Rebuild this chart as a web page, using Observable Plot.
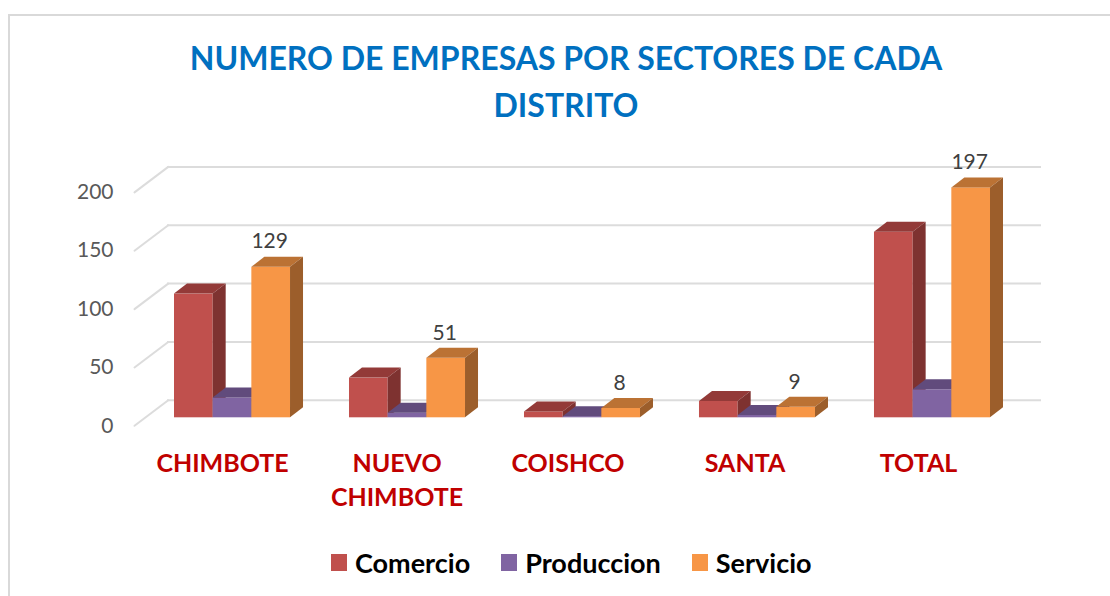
<!DOCTYPE html>
<html>
<head>
<meta charset="utf-8">
<script src="https://cdn.jsdelivr.net/npm/d3@7"></script>
<script src="https://cdn.jsdelivr.net/npm/@observablehq/plot@0.6"></script>
<style>
html,body{margin:0;padding:0;background:#fff;width:1110px;height:596px;overflow:hidden;font-family:Lato,sans-serif}
#frame{position:absolute;left:8px;top:14px;width:1102px;height:582px;border-left:2px solid #d9d9d9;border-top:2px solid #d9d9d9;box-sizing:border-box}
#title{position:absolute;left:0;top:34px;width:1132px;text-align:center;font-weight:700;font-size:32px;line-height:47px;color:#0070c0}
#chart{position:absolute;left:0;top:140px}
#legend{position:absolute;left:331px;top:544px;height:36px;display:flex;align-items:center;font-weight:700;font-size:27px;color:#000}
#legend span.sw{display:inline-block;width:16px;height:17px;margin-right:8px}
#legend span.it{display:inline-flex;align-items:center;margin-right:31px}
</style>
</head>
<body>
<div id="frame"></div>
<div id="title">NUMERO DE EMPRESAS POR SECTORES DE CADA<br>DISTRITO</div>
<div id="chart"></div>
<div id="legend"></div>
<script>
const categories = ["CHIMBOTE", "NUEVO\nCHIMBOTE", "COISHCO", "SANTA", "TOTAL"];
const series = ["Comercio", "Produccion", "Servicio"];
const comercio = [106, 34, 5, 14, 159];
const produccion = [17, 4, 1, 2, 24];
const servicio = [129, 51, 8, 9, 197];
const yTicks = [0, 50, 100, 150, 200];
const frontColors = ["#c0504d", "#8064a2", "#f79646"];
const topColors = ["#933a38", "#614b7c", "#bb7234"];
const sideColors = ["#7e3230", "#54406b", "#9c5e2b"];
const labelNudge = [-10.5, -11, -15, -13, -14.5];

const seriesValues = [comercio, produccion, servicio];
const rows = categories.flatMap((c, i) =>
  series.map((s, j) => ({category: c, series: s, value: seriesValues[j][i]}))
);

const depthX = 13, depthY = 10;
const grid = "#dcdcdc";

// Extruded bar: the rect comes from Plot; its top and side faces follow from the rect's scaled geometry.
function extrude(index, scales, values, dimensions, context, next) {
  const g = next(index, scales, values, dimensions, context);
  const rects = Array.from(g.querySelectorAll("rect"));
  rects.forEach((r, k) => {
    const x = +r.getAttribute("x"), y = +r.getAttribute("y");
    const w = +r.getAttribute("width"), h = +r.getAttribute("height");
    const j = series.indexOf(rows[index[k]].series);
    const ns = "http://www.w3.org/2000/svg";
    const top = document.createElementNS(ns, "polygon");
    top.setAttribute("points", `${x},${y} ${x + depthX},${y - depthY} ${x + w + depthX},${y - depthY} ${x + w},${y}`);
    top.setAttribute("fill", topColors[j]);
    const side = document.createElementNS(ns, "polygon");
    side.setAttribute("points", `${x + w},${y} ${x + w + depthX},${y - depthY} ${x + w + depthX},${y + h - depthY} ${x + w},${y + h}`);
    side.setAttribute("fill", sideColors[j]);
    r.after(top, side);
  });
  return g;
}

const wallLine = {draw(ctx, l) { ctx.moveTo(0, 0); ctx.lineTo(0, -l); }};

const chart = Plot.plot({
  width: 1110,
  height: 390,
  marginLeft: 174,
  marginRight: 120,
  marginTop: 0,
  marginBottom: 0,
  style: {fontFamily: "Lato, sans-serif", background: "transparent", overflow: "visible"},
  fx: {domain: categories, paddingInner: 0.337, paddingOuter: 0, round: false, axis: null},
  x: {domain: series, padding: 0, round: false, axis: null},
  y: {domain: [0, 200], range: [277.3, 43.9]},
  color: {domain: series, range: frontColors},
  marks: [
    Plot.ruleY(yTicks, {fx: () => categories[0], y: d => d, dy: -17.5, insetLeft: -7, insetRight: -751, stroke: grid, strokeWidth: 2}),
    Plot.vector(yTicks, {fx: () => categories[0], y: d => d, frameAnchor: "left", anchor: "start", length: 42.3, rotate: 52.9, dx: -40, dy: 8, shape: wallLine, stroke: grid, strokeWidth: 2}),
    Plot.axisY({ticks: yTicks, tickSize: 0, tickPadding: 61, dy: 8, fontSize: 21, fill: "#595959", label: null}),
    Plot.barY(rows, {fx: "category", x: "series", y: "value", fill: "series", render: extrude}),
    Plot.text(rows.filter(d => d.series === "Servicio"), {fx: "category", x: "series", y: "value", text: d => String(d.value), dy: -25.5, dx: -1.5, fontSize: 21, fill: "#404040"}),
    ...categories.map((c, i) => Plot.text([c], {fx: d => d, y: () => 0, text: d => d, lineAnchor: "top", dx: labelNudge[i] + 0.5, dy: 30, fontSize: 25, lineHeight: 1.36, fontWeight: 700, fill: "#c00000"}))
  ]
});
document.getElementById("chart").append(chart);

const legend = document.getElementById("legend");
series.forEach((s, j) => {
  const it = document.createElement("span");
  it.className = "it";
  const sw = document.createElement("span");
  sw.className = "sw";
  sw.style.background = frontColors[j];
  it.append(sw, document.createTextNode(s));
  legend.append(it);
});
</script>
</body>
</html>
